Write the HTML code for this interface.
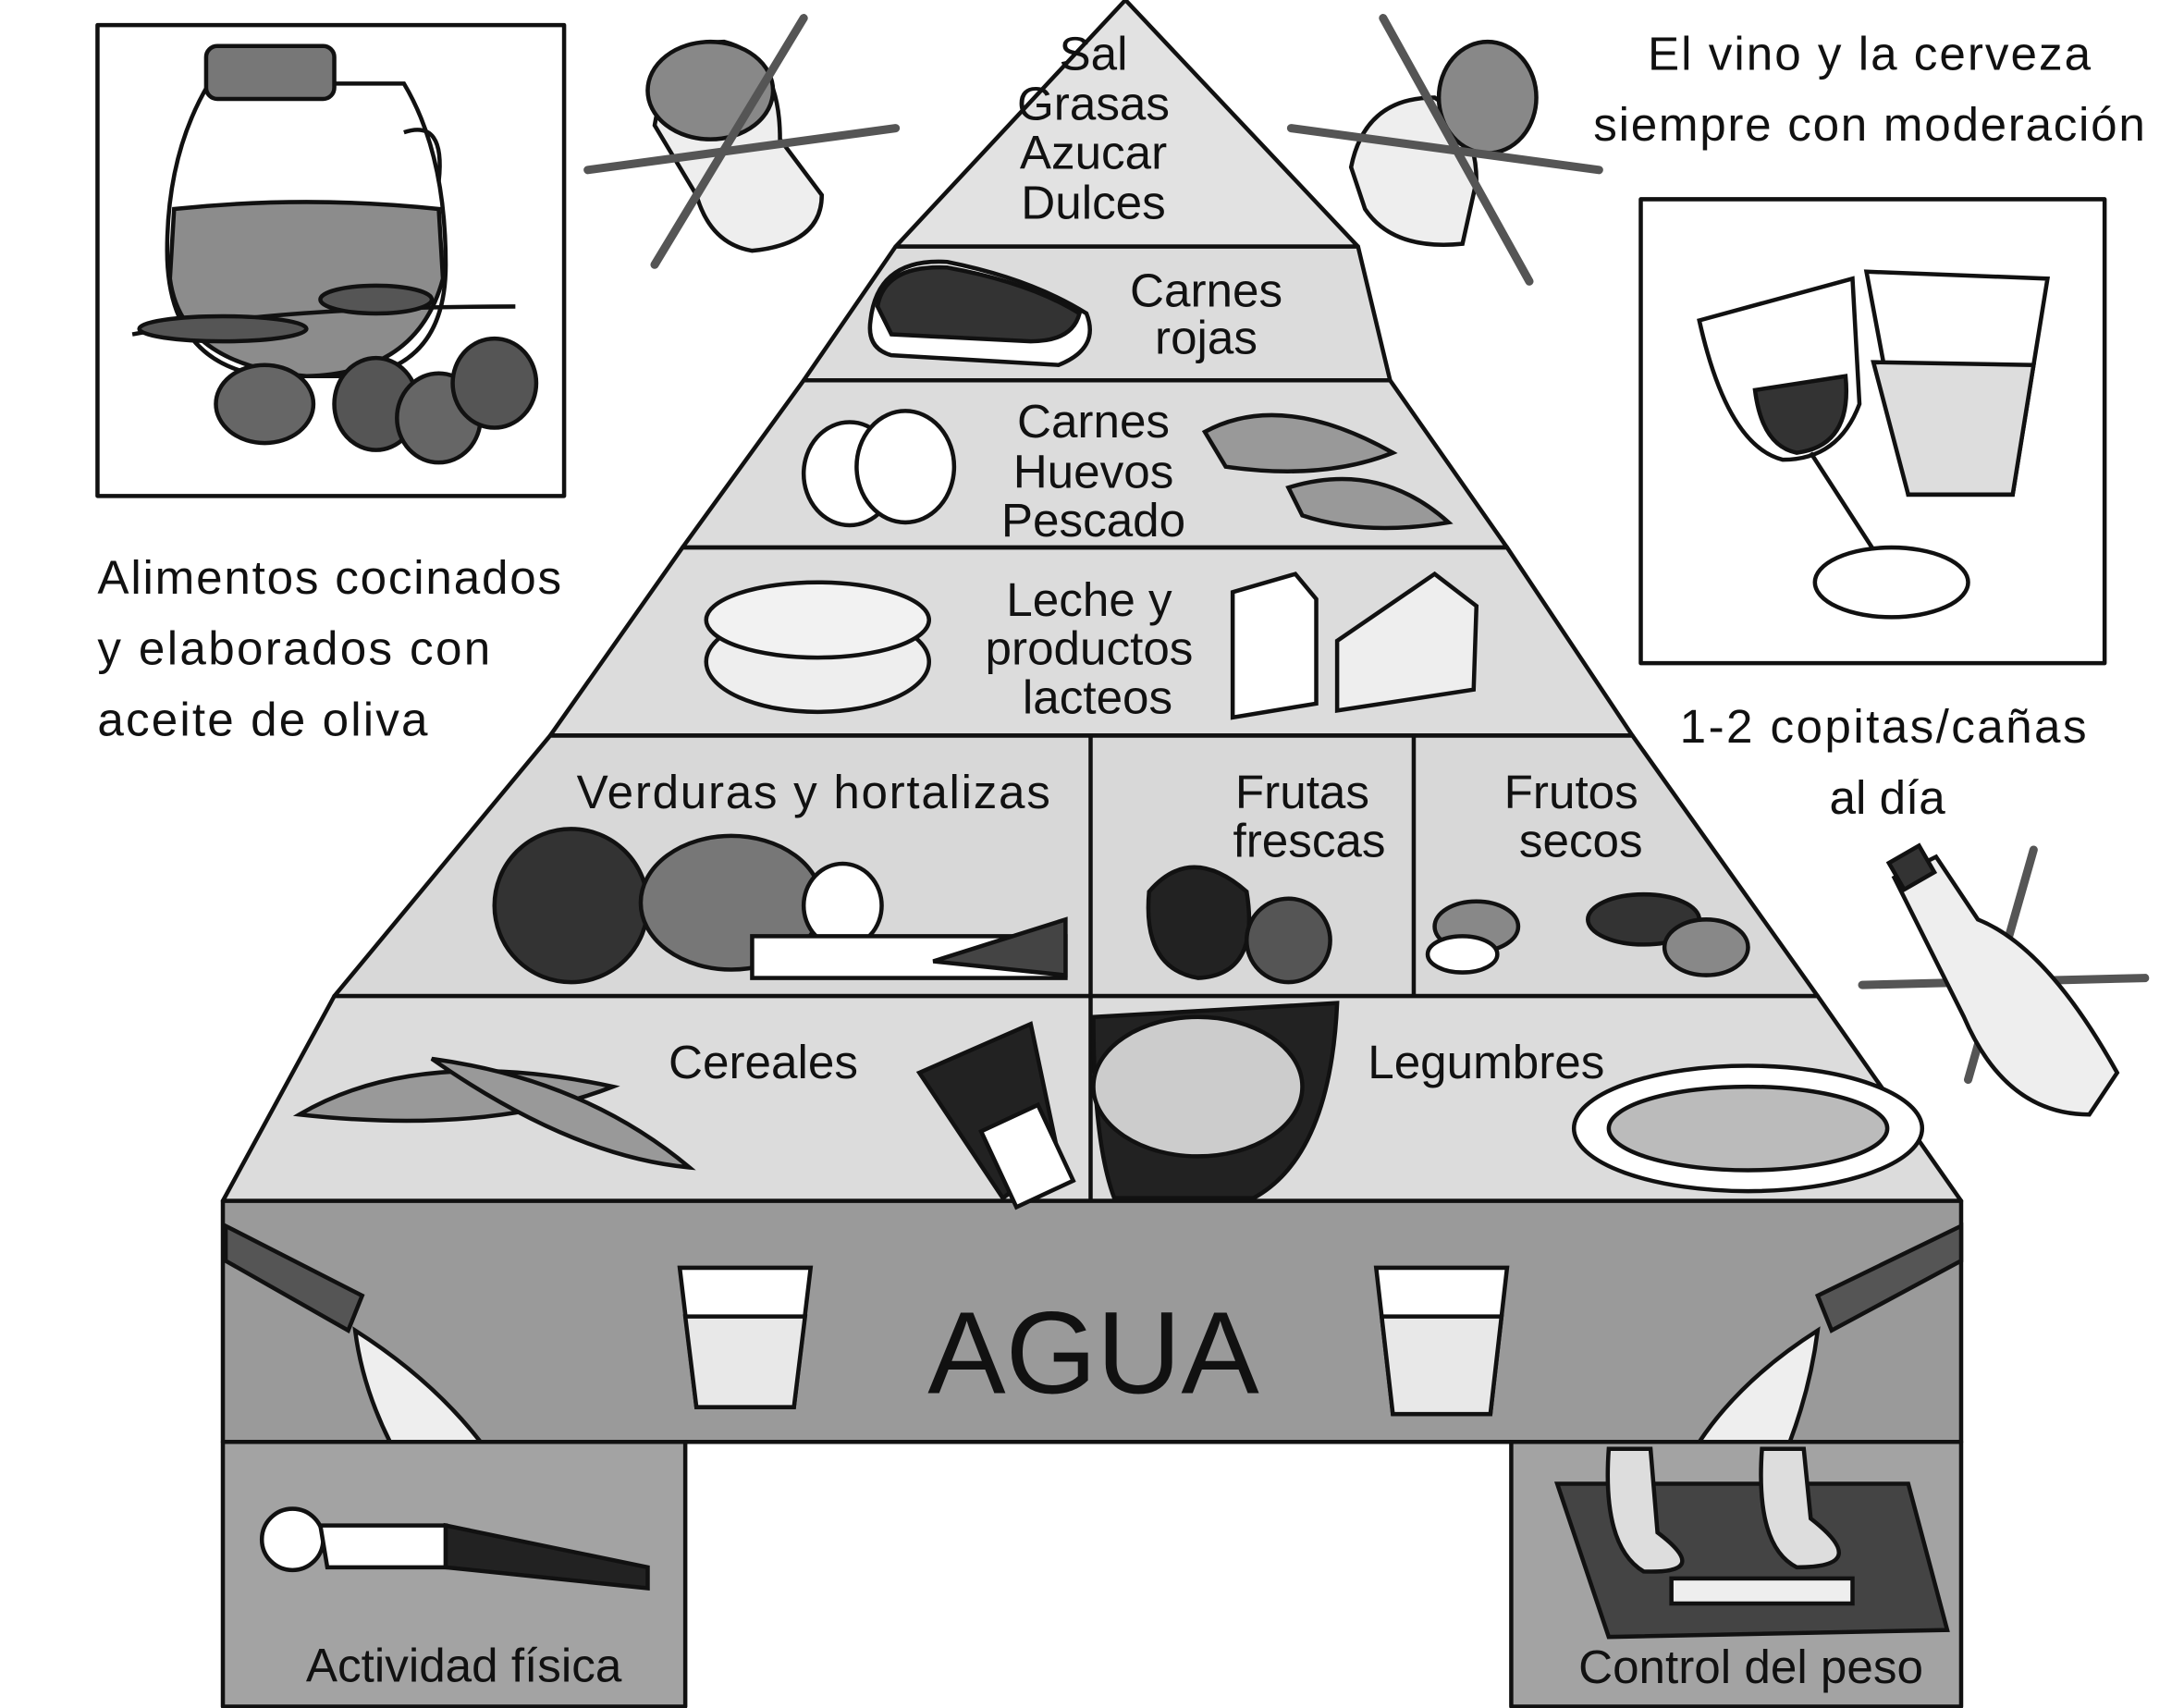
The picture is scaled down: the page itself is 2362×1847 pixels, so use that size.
<!DOCTYPE html>
<html><head><meta charset="utf-8"><style>
html,body{margin:0;padding:0;background:#fff;}
svg{display:block;}
text{font-family:"Liberation Sans",sans-serif;fill:#111;}
</style></head><body>
<svg width="2362" height="1847" viewBox="0 0 1568 1226" preserveAspectRatio="none" xmlns="http://www.w3.org/2000/svg">
<rect width="1568" height="1226" fill="#fff"/>
<g stroke="#111" stroke-width="3" stroke-linejoin="round">
<polygon points="808,0 975,177 643,177" fill="#e2e2e2"/>
<polygon points="643,177 975,177 998,273 577,273" fill="#dcdcdc"/>
<polygon points="577,273 998,273 1082,393 490,393" fill="#dcdcdc"/>
<polygon points="490,393 1082,393 1172,528 395,528" fill="#dcdcdc"/>
<polygon points="395,528 1172,528 1305,715 240,715" fill="#d8d8d8"/>
<polygon points="240,715 1305,715 1408,862 160,862" fill="#dcdcdc"/>
<line x1="783" y1="528" x2="783" y2="715"/>
<line x1="1015" y1="528" x2="1015" y2="715"/>
<line x1="783" y1="715" x2="783" y2="862"/>
<rect x="160" y="862" width="1248" height="173" fill="#9a9a9a"/>
<rect x="160" y="1035" width="332" height="190" fill="#a3a3a3"/>
<rect x="1085" y="1035" width="323" height="190" fill="#a3a3a3"/>
<rect x="70" y="18" width="335" height="338" fill="#fff"/>
<rect x="1178" y="143" width="333" height="333" fill="#fff"/>
</g>
<g stroke="#111" stroke-width="3">
<path d="M150,60 Q120,110 120,180 Q120,260 190,270 L260,270 Q320,260 320,190 Q320,110 290,60 Z" fill="#fff"/>
<path d="M125,150 Q220,140 315,150 L318,200 Q300,268 220,270 Q130,262 122,200 Z" fill="#8c8c8c"/>
<rect x="148" y="33" width="92" height="38" rx="8" fill="#777"/>
<path d="M290,95 Q320,85 315,130" fill="none"/>
<ellipse cx="190" cy="290" rx="35" ry="28" fill="#666"/>
<ellipse cx="270" cy="290" rx="30" ry="33" fill="#555"/>
<ellipse cx="315" cy="300" rx="30" ry="32" fill="#666"/>
<ellipse cx="355" cy="275" rx="30" ry="32" fill="#555"/>
<path d="M95,240 Q200,220 370,220" fill="none"/>
<ellipse cx="160" cy="236" rx="60" ry="9" fill="#555"/>
<ellipse cx="270" cy="215" rx="40" ry="10" fill="#555"/>
</g>
<g stroke="#111" stroke-width="3">
<path d="M470,90 Q480,30 520,30 Q560,40 560,100 L590,140 Q590,175 540,180 Q510,175 500,140 Z" fill="#eee"/>
<ellipse cx="510" cy="65" rx="45" ry="35" fill="#888"/>
<path d="M970,120 Q980,70 1030,70 Q1060,90 1060,130 L1050,175 Q1000,180 980,150 Z" fill="#eee"/>
<ellipse cx="1068" cy="70" rx="35" ry="40" fill="#888"/>
</g>
<g stroke="#555" stroke-width="6" stroke-linecap="round">
<line x1="577" y1="13" x2="470" y2="190"/><line x1="422" y1="122" x2="643" y2="92"/>
<line x1="993" y1="13" x2="1098" y2="202"/><line x1="927" y1="92" x2="1148" y2="122"/>
<line x1="1460" y1="610" x2="1413" y2="775"/><line x1="1337" y1="707" x2="1540" y2="702"/>
</g>
<g stroke="#111" stroke-width="3">
<path d="M1220,230 L1330,200 L1335,290 Q1320,330 1280,330 Q1240,320 1220,230 Z" fill="#fff"/>
<path d="M1260,280 L1325,270 Q1330,320 1290,325 Q1265,320 1260,280 Z" fill="#333"/>
<line x1="1300" y1="325" x2="1355" y2="410"/>
<ellipse cx="1358" cy="418" rx="55" ry="25" fill="#fff"/>
<path d="M1340,195 L1470,200 L1445,355 L1370,355 Z" fill="#fff"/>
<path d="M1345,260 L1460,262 L1445,355 L1370,355 Z" fill="#ddd"/>
<path d="M1360,630 L1390,615 L1420,660 Q1470,680 1520,770 L1500,800 Q1440,800 1410,730 Q1390,690 1380,670 Z" fill="#eee"/>
<rect x="1360" y="612" width="25" height="22" fill="#333" transform="rotate(-30 1372 623)"/>
</g>
<g stroke="#111" stroke-width="3">
<path d="M625,230 Q630,185 680,188 Q740,200 780,225 Q790,250 760,262 L640,255 Q622,250 625,230 Z" fill="#fff"/>
<path d="M630,220 Q635,190 680,192 Q740,203 775,225 Q770,245 740,245 L640,240 Z" fill="#333"/>
<ellipse cx="610" cy="340" rx="33" ry="37" fill="#fff"/><ellipse cx="650" cy="335" rx="35" ry="40" fill="#fff"/>
<path d="M865,310 Q920,280 1000,325 Q950,345 880,335 Z" fill="#999"/>
<path d="M925,350 Q990,330 1040,375 Q980,385 935,370 Z" fill="#999"/>
<ellipse cx="587" cy="475" rx="80" ry="36" fill="#eee"/><ellipse cx="587" cy="445" rx="80" ry="27" fill="#f2f2f2"/>
<path d="M885,425 L930,412 L945,430 L945,505 L885,515 Z" fill="#fff"/>
<path d="M960,460 L1030,412 L1060,435 L1058,495 L960,510 Z" fill="#eee"/>
<circle cx="410" cy="650" r="55" fill="#333"/>
<ellipse cx="525" cy="648" rx="65" ry="48" fill="#777"/>
<ellipse cx="605" cy="650" rx="28" ry="30" fill="#fff"/>
<rect x="540" y="672" width="225" height="30" fill="#fff"/>
<path d="M670,690 L765,660 L765,700 Z" fill="#444"/>
<path d="M825,640 Q855,605 895,640 Q905,700 860,702 Q820,695 825,640 Z" fill="#222"/>
<circle cx="925" cy="675" r="30" fill="#555"/>
<ellipse cx="1060" cy="665" rx="30" ry="18" fill="#888"/><ellipse cx="1050" cy="685" rx="25" ry="13" fill="#fff"/>
<ellipse cx="1180" cy="660" rx="40" ry="18" fill="#333"/><ellipse cx="1225" cy="680" rx="30" ry="20" fill="#888"/>
<path d="M215,800 Q300,750 440,780 Q350,815 215,800 Z" fill="#999"/>
<path d="M310,760 Q420,775 495,838 Q410,830 310,760 Z" fill="#999"/>
<path d="M660,770 L740,735 L760,830 L720,860 Z" fill="#222"/>
<rect x="715" y="800" width="45" height="60" fill="#fff" transform="rotate(-25 737 830)"/>
<path d="M785,730 L960,720 Q955,830 900,860 L800,860 Q785,820 785,730 Z" fill="#222"/>
<ellipse cx="860" cy="780" rx="75" ry="50" fill="#ccc"/>
<ellipse cx="1255" cy="810" rx="125" ry="45" fill="#fff"/><ellipse cx="1255" cy="810" rx="100" ry="30" fill="#bbb"/>
<path d="M488,910 L582,910 L570,1010 L500,1010 Z" fill="#fff"/><path d="M492,945 L578,945 L570,1010 L500,1010 Z" fill="#e8e8e8"/>
<path d="M988,910 L1082,910 L1070,1015 L1000,1015 Z" fill="#fff"/><path d="M992,945 L1078,945 L1070,1015 L1000,1015 Z" fill="#e8e8e8"/>
<path d="M162,880 L260,930 L250,955 L162,905 Z" fill="#555"/>
<path d="M255,955 Q310,990 345,1035 L280,1035 Q260,995 255,955 Z" fill="#eee"/>
<path d="M1408,880 L1305,930 L1315,955 L1408,905 Z" fill="#555"/>
<path d="M1305,955 Q1250,990 1220,1035 L1285,1035 Q1300,995 1305,955 Z" fill="#eee"/>
<circle cx="210" cy="1105" r="22" fill="#fff"/>
<path d="M230,1095 L320,1095 L320,1125 L235,1125 Z" fill="#fff"/>
<path d="M320,1095 L465,1125 L465,1140 L320,1125 Z" fill="#222"/>
<path d="M1118,1065 L1370,1065 L1398,1170 L1155,1175 Z" fill="#444"/>
<rect x="1200" y="1133" width="130" height="18" fill="#eee"/>
<path d="M1155,1040 L1185,1040 L1190,1100 Q1230,1130 1180,1128 Q1150,1110 1155,1040 Z" fill="#ddd"/>
<path d="M1265,1040 L1295,1040 L1300,1090 Q1345,1125 1290,1125 Q1260,1110 1265,1040 Z" fill="#ddd"/>
</g>
<g font-size="34" text-anchor="middle">
<text x="785" y="50">Sal</text><text x="785" y="86">Grasas</text><text x="785" y="121">Azucar</text><text x="785" y="157">Dulces</text>
<text x="866" y="220">Carnes</text><text x="866" y="254">rojas</text>
<text x="785" y="314">Carnes</text><text x="785" y="350">Huevos</text><text x="785" y="385">Pescado</text>
<text x="782" y="442">Leche y</text><text x="782" y="477">productos</text><text x="788" y="512">lacteos</text>
<text x="584" y="580" textLength="340">Verduras y hortalizas</text>
<text x="935" y="580">Frutas</text><text x="940" y="615">frescas</text>
<text x="1128" y="580">Frutos</text><text x="1135" y="615">secos</text>
<text x="548" y="774">Cereales</text><text x="1067" y="774">Legumbres</text>
<text x="333" y="1207">Actividad física</text><text x="1257" y="1208">Control del peso</text>
<text x="1342" y="50" textLength="318">El vino y la cerveza</text><text x="1342" y="101" textLength="396">siempre con moderación</text>
<text x="1352" y="533" textLength="292">1-2 copitas/cañas</text><text x="1355" y="584">al día</text>
</g>
<g font-size="34"><text x="70" y="426" textLength="333">Alimentos cocinados</text><text x="70" y="477" textLength="282">y elaborados con</text><text x="70" y="528" textLength="237">aceite de oliva</text></g>
<text x="785" y="1000" font-size="84" text-anchor="middle">AGUA</text>
</svg>
</body></html>
